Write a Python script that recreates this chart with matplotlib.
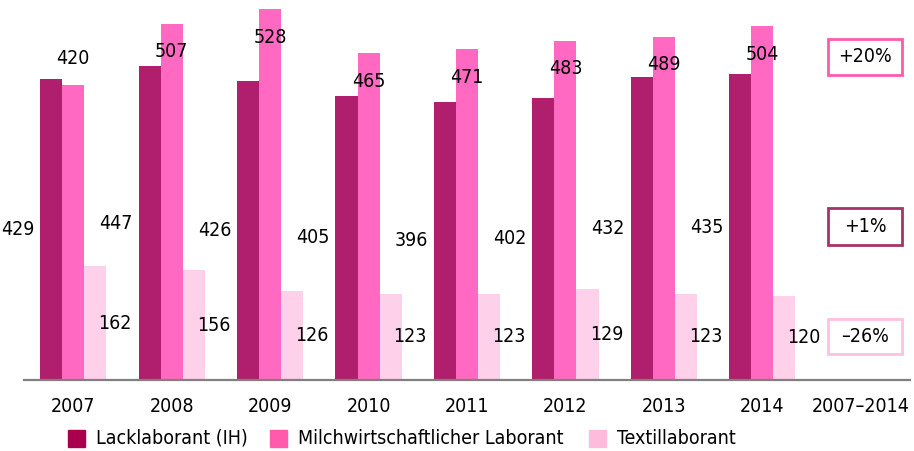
import numpy as np
import matplotlib.pyplot as plt
from matplotlib import font_manager
from matplotlib.patches import Rectangle

# look for a narrow/condensed face, the reference uses a condensed font
narrow = None
for f in font_manager.fontManager.ttflist:
    if f.stretch in ('condensed', 'semi-condensed', 'extra-condensed') or 'Narrow' in f.name or 'Condensed' in f.name:
        narrow = f
        break
if narrow is not None:
    plt.rcParams['font.family'] = [narrow.name, 'DejaVu Sans']
    plt.rcParams['font.stretch'] = narrow.stretch
    fs = 14
else:
    plt.rcParams['font.family'] = ['DejaVu Sans']
    fs = 12

years = ['2007', '2008', '2009', '2010', '2011', '2012', '2013', '2014']
lack = [429, 447, 426, 405, 396, 402, 432, 435]
milch = [420, 507, 528, 465, 471, 483, 489, 504]
textil = [162, 156, 126, 123, 123, 129, 123, 120]
series = ['Lacklaborant (IH)', 'Milchwirtschaftlicher Laborant', 'Textillaborant']
changes = ['+20%', '+1%', '\u201326%']

bar_cols = ['#B01E6E', '#FF69C1', '#FFD0EA']
leg_cols = ['#A8004F', '#FF5AAB', '#FFBBDC']
box_cols = ['#FF5AAB', '#A63468', '#FFC1E0']

W, H = 914, 451
fig = plt.figure(figsize=(W / 100, H / 100), dpi=100)
ax = fig.add_axes([24 / W, 1 - 380 / H, 886 / W, 380 / H])

x = np.arange(len(years))
bw = 0.224
ax.bar(x - bw, lack, bw, color=bar_cols[0])
ax.bar(x, milch, bw, color=bar_cols[1])
ax.bar(x + bw, textil, bw, color=bar_cols[2])

for i in range(len(years)):
    ax.text(x[i] - 1.5 * bw - 0.06, lack[i] / 2, str(lack[i]), ha='right', va='center', fontsize=fs, clip_on=False)
    if milch[i] < lack[i]:
        ym = milch[i] + 38
    else:
        ym = milch[i] - 40
    ax.text(x[i], ym, str(milch[i]), ha='center', va='center', fontsize=fs)
    ax.text(x[i] + bw + 0.03, textil[i] / 2, str(textil[i]), ha='left', va='center', fontsize=fs)

ax.set_xlim(-0.5, 8.5)
ax.set_ylim(0, 541)
ax.set_xticks(list(x) + [8])
ax.set_xticklabels(years + ['2007\u20132014'], fontsize=fs)
ax.tick_params(axis='x', length=0, pad=12)
ax.set_yticks([])
for s in ['top', 'left', 'right']:
    ax.spines[s].set_visible(False)
ax.spines['bottom'].set_color('#808080')
ax.spines['bottom'].set_linewidth(1.6)

# change boxes on the right (pixel positions)
boxes = [(39, 75), (208, 245), (319, 354)]
for (top, bot), lab, col in zip(boxes, changes, box_cols):
    fig.add_artist(Rectangle((828 / W, 1 - bot / H), 74 / W, (bot - top) / H,
                             transform=fig.transFigure, fill=False, edgecolor=col, linewidth=2))
    fig.text(865 / W, 1 - (top + bot) / 2 / H, lab, ha='center', va='center', fontsize=fs)

# legend
leg_x = [68, 270, 589]
for lx, lab, col in zip(leg_x, series, leg_cols):
    fig.add_artist(Rectangle((lx / W, 1 - 447 / H), 17 / W, 17 / H,
                             transform=fig.transFigure, color=col))
    fig.text((lx + 28) / W, 1 - 438 / H, lab, ha='left', va='center', fontsize=fs)

fig.savefig('out.png', dpi=100)
